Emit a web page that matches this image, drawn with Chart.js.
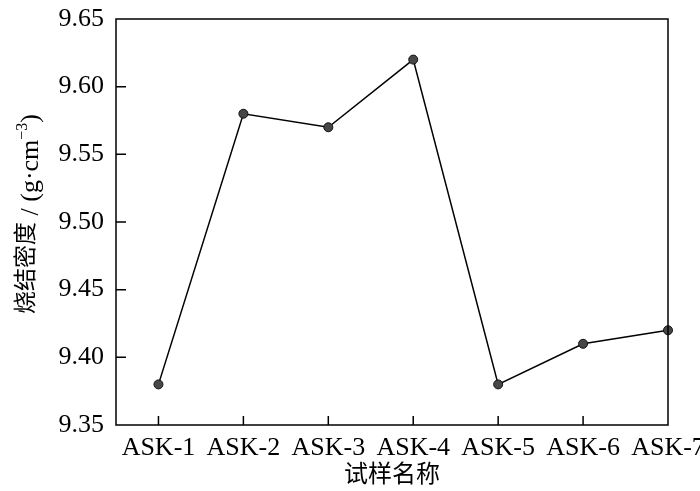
<!DOCTYPE html>
<html>
<head>
<meta charset="utf-8">
<script src="https://cdn.jsdelivr.net/npm/chart.js@4"></script>
<style>
  html, body { margin: 0; padding: 0; background: #fff; }
  #wrap { width: 700px; height: 491px; }
</style>
</head>
<body>
<div id="wrap"><canvas id="plot" width="700" height="491"></canvas></div>
<script>
var sampleNames = ['ASK-1', 'ASK-2', 'ASK-3', 'ASK-4', 'ASK-5', 'ASK-6', 'ASK-7'];
var density = [9.38, 9.58, 9.57, 9.62, 9.38, 9.41, 9.42];
var yTicks = [9.35, 9.40, 9.45, 9.50, 9.55, 9.60, 9.65];
var xTitle = '试样名称';
var yTitleCn = '烧结密度';
var yTitleUnit = ' / (g·cm';
var yTitleSup = '−3';

var serif = '"Liberation Serif", "Times New Roman", serif';
var cjk = '"Noto Sans CJK SC", sans-serif';

// frame, inward ticks and axis titles
var framePlugin = {
    id: 'frame',
    afterDraw: function (chart) {
        var c = chart.ctx;
        var a = chart.chartArea;
        var xs = chart.scales.x;
        var ys = chart.scales.y;
        c.save();
        c.strokeStyle = '#000';
        c.lineWidth = 1.5;
        c.strokeRect(a.left, a.top, a.right - a.left, a.bottom - a.top);
        c.beginPath();
        for (var i = 0; i < sampleNames.length - 1; i++) {
            var px = xs.getPixelForValue(i);
            c.moveTo(px, a.bottom);
            c.lineTo(px, a.bottom - 9);
        }
        for (var j = 1; j < yTicks.length - 1; j++) {
            var py = ys.getPixelForValue(yTicks[j]);
            c.moveTo(a.left, py);
            c.lineTo(a.left + 10, py);
        }
        c.stroke();

        // x title
        c.fillStyle = '#000';
        c.font = '24px ' + cjk;
        c.textAlign = 'center';
        c.textBaseline = 'middle';
        c.fillText(xTitle, (a.left + a.right) / 2, 473);

        // y title, rotated
        var cnFont = '23px ' + cjk;
        var unitFont = '26px ' + serif;
        var supFont = '16px ' + serif;
        c.font = cnFont; var w1 = c.measureText(yTitleCn).width;
        c.font = unitFont; var w2 = c.measureText(yTitleUnit).width;
        c.font = supFont; var w3 = c.measureText(yTitleSup).width;
        c.font = unitFont; var w4 = c.measureText(')').width;
        var total = w1 + w2 + w3 + w4;
        c.translate(38, 214);
        c.rotate(-Math.PI / 2);
        c.textAlign = 'left';
        c.textBaseline = 'alphabetic';
        var x0 = -total / 2;
        c.font = cnFont;
        c.fillText(yTitleCn, x0, -5);
        x0 += w1;
        c.font = unitFont;
        c.fillText(yTitleUnit, x0, 0);
        x0 += w2;
        c.font = supFont;
        c.fillText(yTitleSup, x0, -11);
        x0 += w3;
        c.font = unitFont;
        c.fillText(')', x0, 0);
        c.restore();
    }
};

var points = density.map(function (v, i) { return { x: i, y: v }; });

var chart = new Chart(document.getElementById('plot').getContext('2d'), {
    type: 'line',
    data: {
        datasets: [{
            data: points,
            borderColor: '#000',
            borderWidth: 1.5,
            pointRadius: 4.5,
            pointHoverRadius: 4.5,
            pointBackgroundColor: '#474747',
            pointBorderColor: '#111',
            pointBorderWidth: 1,
            tension: 0,
            fill: false,
            clip: false
        }]
    },
    options: {
        responsive: false,
        animation: false,
        events: [],
        layout: { padding: { top: 19, right: 32, left: 0, bottom: 0 } },
        plugins: {
            legend: { display: false },
            tooltip: { enabled: false }
        },
        scales: {
            x: {
                type: 'linear',
                min: -0.5,
                max: 6,
                afterBuildTicks: function (s) {
                    s.ticks = sampleNames.map(function (n, i) { return { value: i }; });
                },
                afterFit: function (s) {
                    s.height = 66;
                    s.paddingLeft = 0;
                    s.paddingRight = 0;
                },
                grid: { display: false, drawTicks: false },
                border: { display: false },
                ticks: {
                    padding: 8,
                    autoSkip: false,
                    maxRotation: 0,
                    color: '#000',
                    font: { family: serif, size: 26 },
                    callback: function (v) { return sampleNames[v]; }
                }
            },
            y: {
                min: 9.35,
                max: 9.65,
                afterBuildTicks: function (s) {
                    s.ticks = yTicks.map(function (v) { return { value: v }; });
                },
                afterFit: function (s) {
                    s.width = 116;
                    s.paddingTop = 0;
                    s.paddingBottom = 0;
                },
                grid: { display: false, drawTicks: false },
                border: { display: false },
                ticks: {
                    padding: 12,
                    color: '#000',
                    font: { family: serif, size: 26 },
                    callback: function (v) { return v.toFixed(2); }
                }
            }
        }
    },
    plugins: [framePlugin]
});
</script>
</body>
</html>
